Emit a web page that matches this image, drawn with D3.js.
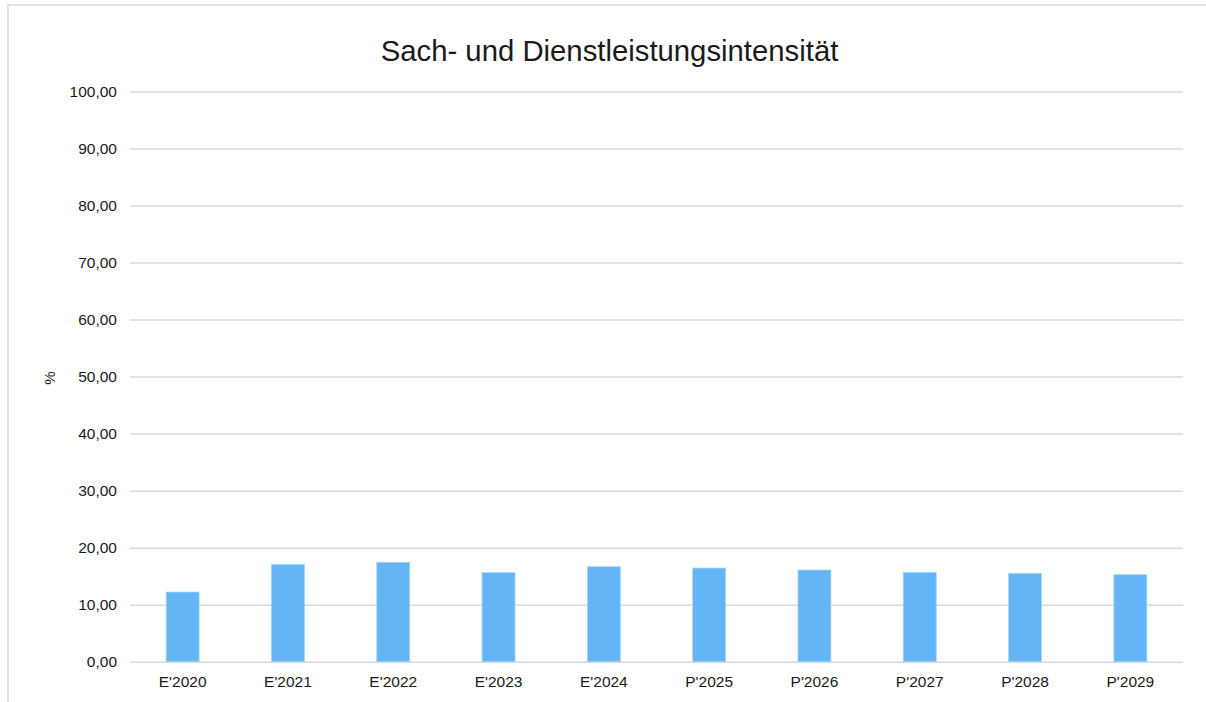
<!DOCTYPE html>
<html>
<head>
<meta charset="utf-8">
<script src="https://cdn.jsdelivr.net/npm/d3@7"></script>
<style>
  body { margin: 0; background: #fff; }
  text { font-family: "Liberation Sans", Arial, sans-serif; fill: #1a1a1a; }
</style>
</head>
<body>
<div id="chart"></div>
<script>
// Chart data
var categories = ["E'2020", "E'2021", "E'2022", "E'2023", "E'2024", "P'2025", "P'2026", "P'2027", "P'2028", "P'2029"];
var values = [12.22, 17.08, 17.43, 15.61, 16.66, 16.43, 16.08, 15.68, 15.50, 15.26];
var yTicks = [0, 10, 20, 30, 40, 50, 60, 70, 80, 90, 100];
var titleText = "Sach- und Dienstleistungsintensität";
var yLabel = "%";

var W = 1206, H = 702;
var margin = {top: 91.5, right: 23, bottom: 40.3, left: 130},
    width = W - margin.left - margin.right,
    height = H - margin.top - margin.bottom;

var svg = d3.select("#chart")
  .append("svg")
    .attr("width", W)
    .attr("height", H);

// outer frame
svg.append("rect")
  .attr("x", 8).attr("y", 5)
  .attr("width", W + 10).attr("height", H + 10)
  .attr("fill", "none")
  .attr("stroke", "#d9d9d9")
  .attr("stroke-width", 1.5);

svg.append("text")
  .attr("x", 609.5)
  .attr("y", 60.5)
  .attr("text-anchor", "middle")
  .style("font-size", "29.3px")
  .text(titleText);

var g = svg.append("g")
  .attr("transform", "translate(" + margin.left + "," + margin.top + ")");

var xScale = d3.scaleBand()
  .domain(categories)
  .range([0, width])
  .paddingInner(0.687)
  .paddingOuter(0.3435);

var yScale = d3.scaleLinear().domain([0, 100]).range([height, 0]);

var fmt = function (d) { return d3.format(".2f")(d).replace(".", ","); };

// gridlines
g.append("g")
  .attr("class", "grid")
  .call(d3.axisLeft(yScale).tickValues(yTicks).tickSize(-width).tickFormat(""))
  .call(function (a) { a.select(".domain").remove(); })
  .selectAll("line")
    .attr("stroke", "#d9d9d9")
    .attr("stroke-width", 1.5);

// y axis labels
g.append("g")
  .attr("class", "y-axis")
  .call(d3.axisLeft(yScale).tickValues(yTicks).tickSize(0).tickPadding(13).tickFormat(fmt))
  .call(function (a) { a.select(".domain").remove(); })
  .selectAll("text")
    .style("font-size", "15.5px")
    .attr("fill", "#1a1a1a");

// bars
g.selectAll(".bar")
  .data(values)
  .enter().append("rect")
    .attr("class", "bar")
    .attr("x", function (d, i) { return xScale(categories[i]); })
    .attr("y", function (d) { return yScale(d); })
    .attr("width", xScale.bandwidth())
    .attr("height", function (d) { return height - yScale(d); })
    .attr("fill", "#64b5f6")
    .attr("stroke", "#a9d4f8")
    .attr("stroke-width", 0.8);

// x axis labels
g.append("g")
  .attr("class", "x-axis")
  .attr("transform", "translate(0," + height + ")")
  .call(d3.axisBottom(xScale).tickSize(0).tickPadding(14.3))
  .call(function (a) { a.select(".domain").remove(); })
  .selectAll("text")
    .style("font-size", "15.5px")
    .attr("fill", "#1a1a1a");

// y axis title
svg.append("text")
  .attr("transform", "translate(55,378) rotate(-90)")
  .attr("text-anchor", "middle")
  .style("font-size", "15px")
  .text(yLabel);
</script>
</body>
</html>
